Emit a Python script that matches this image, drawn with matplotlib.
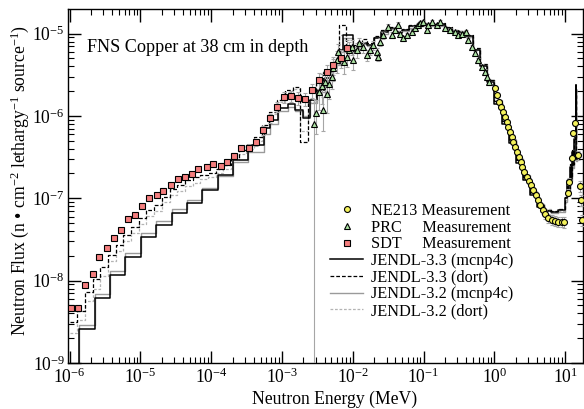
import matplotlib
matplotlib.use("Agg")
import matplotlib.pyplot as plt
from matplotlib.ticker import LogLocator, NullFormatter
import numpy as np

# Times-like fonts for text and the math in tick labels
plt.rcParams['font.family'] = ['Liberation Serif', 'DejaVu Serif']
plt.rcParams['mathtext.fontset'] = 'custom'
plt.rcParams['mathtext.rm'] = 'Liberation Serif'
plt.rcParams['mathtext.it'] = 'Liberation Serif:italic'
plt.rcParams['mathtext.bf'] = 'Liberation Serif:bold'

# ---- measurements (MeV, n/cm2/lethargy/source, relative error) ----
sdt_energy = [1.05e-6, 1.32e-6, 1.67e-6, 2.12e-6, 2.62e-6, 3.34e-6, 4.20e-6, 5.32e-6, 6.62e-6, 8.40e-6,
              1.05e-5, 1.34e-5, 1.70e-5, 2.10e-5, 2.68e-5, 3.36e-5, 4.27e-5, 5.36e-5, 6.61e-5, 8.63e-5,
              1.07e-4, 1.36e-4, 1.69e-4, 2.12e-4, 2.66e-4, 3.39e-4, 4.26e-4, 5.33e-4, 6.70e-4, 8.42e-4,
              1.08e-3, 1.34e-3, 1.70e-3, 2.13e-3, 2.68e-3, 3.36e-3, 4.28e-3, 5.31e-3, 6.74e-3, 8.36e-3]
sdt_flux = [4.70e-9, 4.70e-9, 8.87e-9, 1.21e-8, 1.92e-8, 2.51e-8, 3.27e-8, 4.12e-8, 5.56e-8, 6.22e-8,
            8.07e-8, 1.00e-7, 1.10e-7, 1.24e-7, 1.45e-7, 1.70e-7, 1.83e-7, 1.95e-7, 2.25e-7, 2.42e-7,
            2.61e-7, 2.47e-7, 2.78e-7, 3.29e-7, 4.11e-7, 4.11e-7, 4.79e-7, 6.75e-7, 9.35e-7, 1.29e-6,
            1.68e-6, 1.75e-6, 1.65e-6, 1.59e-6, 2.06e-6, 2.73e-6, 3.41e-6, 4.15e-6, 5.08e-6, 6.60e-6]
sdt_err = [0.08, 0.08, 0.07, 0.07, 0.07, 0.06, 0.06, 0.06, 0.06, 0.06,
           0.06, 0.06, 0.06, 0.06, 0.06, 0.06, 0.06, 0.06, 0.06, 0.07,
           0.07, 0.07, 0.08, 0.08, 0.08, 0.10, 0.10, 0.12, 0.12, 0.14,
           0.15, 0.15, 0.18, 0.18, 0.20, 0.22, 0.22, 0.25, 0.25, 0.25]

prc_energy = [2.86e-3, 3.02e-3, 3.36e-3, 3.64e-3, 3.76e-3, 4.05e-3, 4.28e-3, 4.66e-3, 5.04e-3, 5.31e-3,
              5.93e-3, 6.12e-3, 7.52e-3, 8.21e-3, 8.93e-3, 9.65e-3, 1.02e-2, 1.14e-2, 1.24e-2, 1.41e-2,
              1.57e-2, 1.75e-2, 1.95e-2, 2.18e-2, 2.30e-2, 2.42e-2, 2.70e-2, 3.17e-2, 3.54e-2, 3.94e-2,
              4.39e-2, 4.64e-2, 5.17e-2, 5.77e-2, 6.79e-2, 7.57e-2, 8.42e-2, 8.89e-2, 9.90e-2, 0.111,
              0.116, 0.130, 0.153, 0.171, 0.201, 0.236, 0.278, 0.309, 0.345, 0.397,
              0.428, 0.478, 0.532, 0.593, 0.662, 0.737, 0.778, 0.847]
prc_flux = [7.91e-7, 1.09e-6, 1.97e-6, 2.31e-6, 1.18e-6, 2.60e-6, 1.83e-6, 2.44e-6, 2.99e-6, 3.78e-6,
            4.77e-6, 5.91e-6, 4.55e-6, 5.23e-6, 6.31e-6, 6.92e-6, 4.77e-6, 6.31e-6, 7.60e-6, 6.92e-6,
            5.48e-6, 6.31e-6, 7.25e-6, 6.01e-6, 5.23e-6, 7.95e-6, 9.59e-6, 1.21e-5, 9.59e-6, 1.10e-5,
            1.27e-5, 1.00e-5, 8.74e-6, 9.59e-6, 1.05e-5, 1.16e-5, 1.27e-5, 1.33e-5, 1.39e-5, 1.10e-5,
            1.27e-5, 1.39e-5, 1.27e-5, 1.39e-5, 1.16e-5, 1.10e-5, 1.05e-5, 9.59e-6, 1.00e-5, 1.05e-5,
            8.34e-6, 6.92e-6, 5.75e-6, 4.77e-6, 3.95e-6, 3.43e-6, 2.99e-6, 2.60e-6]
prc_err = [1.00, 0.45, 0.40, 0.40, 0.45, 0.35, 0.40, 0.35, 0.30, 0.30,
           0.30, 0.25, 0.30, 0.25, 0.25, 0.20, 0.25, 0.20, 0.15, 0.15,
           0.15, 0.12, 0.12, 0.12, 0.12, 0.10, 0.10, 0.08, 0.08, 0.08,
           0.08, 0.08, 0.08, 0.07, 0.07, 0.07, 0.07, 0.06, 0.06, 0.06,
           0.06, 0.06, 0.06, 0.06, 0.06, 0.06, 0.06, 0.06, 0.06, 0.06,
           0.06, 0.06, 0.07, 0.07, 0.07, 0.08, 0.08, 0.08]

ne213_energy = [1.02, 1.08, 1.16, 1.24, 1.31, 1.41, 1.49, 1.57, 1.66, 1.75,
                1.85, 1.95, 2.07, 2.22, 2.35, 2.48, 2.64, 2.86, 3.08, 3.29,
                3.54, 3.83, 4.09, 4.41, 4.81, 5.19, 5.77, 6.44, 7.18, 8.00,
                8.93, 9.71, 11.1, 11.4, 12.6, 13.0, 13.7, 15.3, 16.2, 16.6, 17.1]
ne213_flux = [2.16e-6, 1.79e-6, 1.49e-6, 1.29e-6, 1.12e-6, 9.77e-7, 8.51e-7, 7.40e-7, 6.43e-7, 5.60e-7,
              4.86e-7, 4.23e-7, 3.68e-7, 3.20e-7, 2.78e-7, 2.42e-7, 2.10e-7, 1.83e-7, 1.64e-7, 1.45e-7,
              1.26e-7, 1.10e-7, 9.53e-8, 8.29e-8, 7.21e-8, 6.45e-8, 5.71e-8, 5.45e-8, 5.35e-8, 5.20e-8,
              5.20e-8, 5.11e-8, 1.17e-7, 1.59e-7, 3.06e-7, 6.15e-7, 8.13e-7, 3.35e-7, 1.41e-7, 9.53e-8, 5.45e-8]
ne213_err = [0.04, 0.04, 0.04, 0.04, 0.04, 0.04, 0.04, 0.04, 0.04, 0.04,
             0.04, 0.04, 0.04, 0.04, 0.05, 0.05, 0.05, 0.05, 0.06, 0.06,
             0.06, 0.07, 0.08, 0.08, 0.10, 0.12, 0.12, 0.14, 0.15, 0.15,
             0.15, 0.15, 0.10, 0.10, 0.08, 0.06, 0.06, 0.12, 0.15, 0.15, 0.15]

# ---- calculations: group boundaries (MeV) and group fluxes ----
mcnp_edges = [1.37e-6, 2.26e-6, 3.72e-6, 6.14e-6, 1.01e-5, 1.67e-5, 2.75e-5, 4.54e-5, 7.48e-5, 1.23e-4,
              2.03e-4, 3.35e-4, 5.53e-4, 6.78e-4, 8.79e-4, 1.22e-3, 1.53e-3, 1.98e-3, 2.49e-3, 3.12e-3,
              4.05e-3, 5.25e-3, 6.59e-3, 7.27e-3, 1.01e-2, 1.19e-2,
              1.585e-2, 1.995e-2, 2.512e-2, 3.162e-2, 3.981e-2, 5.012e-2, 6.310e-2, 7.943e-2, 0.1, 0.1259,
              0.1585, 0.1995, 0.2512, 0.3162, 0.3981, 0.5012, 0.6310, 0.7943, 1.0, 1.259,
              1.585, 1.995, 2.512, 3.162, 3.981, 5.012, 6.310, 7.943, 10.0,
              10.5, 11.0, 11.5, 12.0, 12.5, 13.0, 13.5, 14.0, 14.3, 14.6]
j33_mcnp = [2.58e-9, 6.1e-9, 1.17e-8, 1.95e-8, 3.42e-8, 4.75e-8, 6.58e-8, 8.8e-8, 1.26e-7, 1.89e-7,
            2.9e-7, 4.4e-7, 7.1e-7, 8.9e-7, 1.25e-6, 1.39e-6, 1.18e-6, 9.44e-7, 1.56e-6, 2.06e-6,
            2.88e-6, 4.39e-6, 6.31e-6, 9.6e-6, 5.96e-6, 7.67e-6,
            7.25e-6, 8.8e-6, 1.04e-5, 1.17e-5, 1.01e-5, 1.10e-5, 1.23e-5, 1.27e-5, 1.30e-5, 1.27e-5,
            1.30e-5, 1.17e-5, 1.07e-5, 1.04e-5, 9.3e-6, 6.3e-6, 4.05e-6, 2.6e-6, 1.39e-6, 8.0e-7,
            4.7e-7, 2.7e-7, 1.67e-7, 1.1e-7, 7.9e-8, 7.0e-8, 6.8e-8, 7.2e-8,
            1.0e-7, 1.6e-7, 1.25e-7, 2.4e-7, 1.7e-7, 3.6e-7, 2.5e-7, 5.2e-7, 2.4e-6, 3.0e-7]
j32_mcnp = [2.9e-9, 6.8e-9, 1.31e-8, 2.18e-8, 3.82e-8, 5.3e-8, 7.35e-8, 9.6e-8, 1.32e-7, 1.85e-7,
            2.75e-7, 3.6e-7, 6.0e-7, 8.0e-7, 1.15e-6, 1.30e-6, 1.15e-6, 1.0e-6, 1.45e-6, 1.95e-6,
            2.75e-6, 4.1e-6, 5.9e-6, 8.8e-6, 6.3e-6, 7.4e-6,
            7.0e-6, 9.0e-6, 1.0e-5, 1.12e-5, 1.05e-5, 1.08e-5, 1.18e-5, 1.24e-5, 1.26e-5, 1.24e-5,
            1.25e-5, 1.14e-5, 1.05e-5, 1.0e-5, 9.0e-6, 6.5e-6, 4.2e-6, 2.7e-6, 1.5e-6, 8.6e-7,
            5.1e-7, 3.0e-7, 1.85e-7, 1.2e-7, 8.4e-8, 7.2e-8, 6.6e-8, 6.8e-8,
            9.0e-8, 1.4e-7, 1.2e-7, 2.2e-7, 1.6e-7, 3.2e-7, 2.3e-7, 4.6e-7, 2.1e-6, 2.8e-7]

dort_edges = [1.0e-6, 1.284e-6, 1.649e-6, 2.117e-6, 2.718e-6, 3.490e-6, 4.481e-6, 5.754e-6, 7.389e-6, 9.488e-6,
              1.218e-5, 1.564e-5, 2.009e-5, 2.579e-5, 3.312e-5, 4.253e-5, 5.461e-5, 7.012e-5, 9.004e-5, 1.156e-4,
              1.484e-4, 1.906e-4, 2.447e-4, 3.142e-4, 4.035e-4, 5.181e-4, 6.653e-4, 8.543e-4, 1.097e-3, 1.408e-3,
              1.809e-3, 2.322e-3, 2.982e-3, 3.829e-3, 4.916e-3, 6.313e-3, 8.106e-3, 1.041e-2, 1.337e-2,
              1.585e-2, 1.995e-2, 2.512e-2, 3.162e-2, 3.981e-2, 5.012e-2, 6.310e-2, 7.943e-2, 0.1, 0.1259,
              0.1585, 0.1995, 0.2512, 0.3162, 0.3981, 0.5012, 0.6310, 0.7943, 1.0, 1.259,
              1.585, 1.995, 2.512, 3.162, 3.981, 5.012, 6.310, 7.943, 10.0,
              10.5, 11.0, 11.5, 12.0, 12.5, 13.0, 13.5, 14.0, 14.3, 14.6]
j33_dort = [3.15e-9, 4.32e-9, 7.35e-9, 1.04e-8, 1.48e-8, 2.05e-8, 2.71e-8, 3.59e-8, 4.52e-8, 5.71e-8,
            7.21e-8, 8.29e-8, 1.05e-7, 1.29e-7, 1.45e-7, 1.67e-7, 1.80e-7, 1.92e-7, 2.01e-7, 2.25e-7,
            2.54e-7, 3.06e-7, 3.85e-7, 4.43e-7, 5.60e-7, 7.76e-7, 1.12e-6, 1.56e-6, 2.06e-6, 2.26e-6,
            4.86e-7, 1.56e-6, 2.51e-6, 3.41e-6, 4.51e-6, 1.27e-5, 6.31e-6, 7.25e-6, 8.5e-6,
            7.6e-6, 9.3e-6, 1.10e-5, 1.20e-5, 1.06e-5, 1.13e-5, 1.27e-5, 1.32e-5, 1.34e-5, 1.30e-5,
            1.33e-5, 1.20e-5, 1.10e-5, 1.06e-5, 9.6e-6, 6.6e-6, 4.3e-6, 2.75e-6, 1.50e-6, 8.6e-7,
            5.0e-7, 2.9e-7, 1.8e-7, 1.17e-7, 8.2e-8, 7.3e-8, 7.0e-8, 7.5e-8,
            1.05e-7, 1.7e-7, 1.3e-7, 2.6e-7, 1.8e-7, 3.9e-7, 2.6e-7, 5.5e-7, 2.2e-6, 3.2e-7]
j32_dort = [2.3e-9, 3.3e-9, 5.6e-9, 7.9e-9, 1.15e-8, 1.73e-8, 2.29e-8, 3.04e-8, 3.82e-8, 4.83e-8,
            6.1e-8, 7.0e-8, 8.9e-8, 1.09e-7, 1.23e-7, 1.41e-7, 1.52e-7, 1.72e-7, 1.80e-7, 2.01e-7,
            2.27e-7, 2.74e-7, 3.44e-7, 3.96e-7, 5.0e-7, 7.3e-7, 1.06e-6, 1.48e-6, 1.95e-6, 2.14e-6,
            6.5e-7, 1.48e-6, 2.37e-6, 3.2e-6, 4.3e-6, 9.5e-6, 6.0e-6, 6.9e-6, 8.0e-6,
            7.3e-6, 9.0e-6, 1.05e-5, 1.15e-5, 1.04e-5, 1.10e-5, 1.22e-5, 1.28e-5, 1.30e-5, 1.27e-5,
            1.28e-5, 1.16e-5, 1.07e-5, 1.02e-5, 9.2e-6, 6.4e-6, 4.2e-6, 2.7e-6, 1.55e-6, 9.0e-7,
            5.3e-7, 3.1e-7, 1.9e-7, 1.22e-7, 8.6e-8, 7.4e-8, 6.8e-8, 7.0e-8,
            9.5e-8, 1.5e-7, 1.25e-7, 2.3e-7, 1.7e-7, 3.4e-7, 2.4e-7, 4.8e-7, 2.0e-6, 2.9e-7]

legend_labels = ["NE213 Measurement", "PRC     Measurement", "SDT     Measurement",
                 "JENDL-3.3 (mcnp4c)", "JENDL-3.3 (dort)", "JENDL-3.2 (mcnp4c)", "JENDL-3.2 (dort)"]

FLOOR = 1e-12


def draw_groups(ax, edges, vals, from_floor=False, **kw):
    # histogram outline of group fluxes; mcnp tallies rise up from the axis
    x = np.asarray(edges, float)
    y = np.append(np.asarray(vals, float), vals[-1])
    if from_floor:
        x = np.r_[x[0], x]
        y = np.r_[FLOOR, y]
    return ax.step(x, y, where='post', **kw)[0]


def draw_meas(ax, e, f, rel, marker, ms, face):
    f = np.asarray(f, float)
    r = np.asarray(rel, float)
    lo = f * np.minimum(r, 0.99999)
    hi = f * r
    ax.errorbar(e, f, yerr=[lo, hi], fmt='none', ecolor='#a6a6a6', elinewidth=0.8,
                capsize=1.6, capthick=0.8, zorder=5)
    h, = ax.plot(e, f, ls='none', marker=marker, ms=ms, mfc=face, mec='black', mew=0.8, zorder=6)
    return h


fig = plt.figure(figsize=(5.84, 4.09), dpi=100)
ax = fig.add_axes([0.1159, 0.1125, 0.8832, 0.8648])
ax.set_xscale('log')
ax.set_yscale('log')

h32d = draw_groups(ax, dort_edges, j32_dort, color='#b4b4b4', lw=0.9, dashes=(2.2, 1.4), zorder=2)
h32m = draw_groups(ax, mcnp_edges, j32_mcnp, from_floor=True, color='#9a9a9a', lw=1.0, zorder=2)
h33d = draw_groups(ax, dort_edges, j33_dort, color='black', lw=0.9, dashes=(3.0, 1.6), zorder=3)
h33m = draw_groups(ax, mcnp_edges, j33_mcnp, from_floor=True, color='black', lw=1.1, zorder=3)

h_ne = draw_meas(ax, ne213_energy, ne213_flux, ne213_err, 'o', 4.3, '#f4f25c')
h_prc = draw_meas(ax, prc_energy, prc_flux, prc_err, '^', 5.0, '#ace3a4')
h_sdt = draw_meas(ax, sdt_energy, sdt_flux, sdt_err, 's', 4.6, '#f47e7e')

ax.set_xlim(9.4e-7, 18.1)
ax.set_ylim(1e-9, 1.97e-5)

for axis in (ax.xaxis, ax.yaxis):
    axis.set_major_locator(LogLocator(base=10, numticks=20))
    axis.set_minor_locator(LogLocator(base=10, subs=np.arange(2, 10), numticks=20))
    axis.set_minor_formatter(NullFormatter())

ax.tick_params(which='both', direction='in', top=True, right=True)
ax.tick_params(which='major', length=9, width=1.0, labelsize=12.7)
ax.tick_params(axis='y', which='major', pad=2)
ax.tick_params(which='minor', length=4.5, width=0.8)
for s in ax.spines.values():
    s.set_linewidth(1.0)

ax.set_xlabel("Neutron Energy (MeV)", fontsize=12.7)
ax.xaxis.set_label_coords(0.518, -0.102)
ax.xaxis.label.set_va('center')
ax.set_ylabel("Neutron Flux (n \u2022 cm$^{-2}$ lethargy$^{-1}$ source$^{-1}$)", fontsize=12.7)
ax.yaxis.set_label_coords(-0.0925, 0.5146)
ax.yaxis.label.set_va('center')

ax.text(0.0374, 0.8906, "FNS Copper at 38 cm in depth", transform=ax.transAxes,
        fontsize=13.1, ha='left', va='center')

leg = ax.legend([h_ne, h_prc, h_sdt, h33m, h33d, h32m, h32d], legend_labels,
                loc='upper left', bbox_to_anchor=(330 / 584, 1 - 203 / 409),
                bbox_transform=fig.transFigure, frameon=False, fontsize=11.7,
                borderpad=0, borderaxespad=0, handlelength=2.05, handletextpad=0.46,
                labelspacing=0.04, numpoints=1)

fig.savefig("out.png", dpi=100)
plt.close("all")
